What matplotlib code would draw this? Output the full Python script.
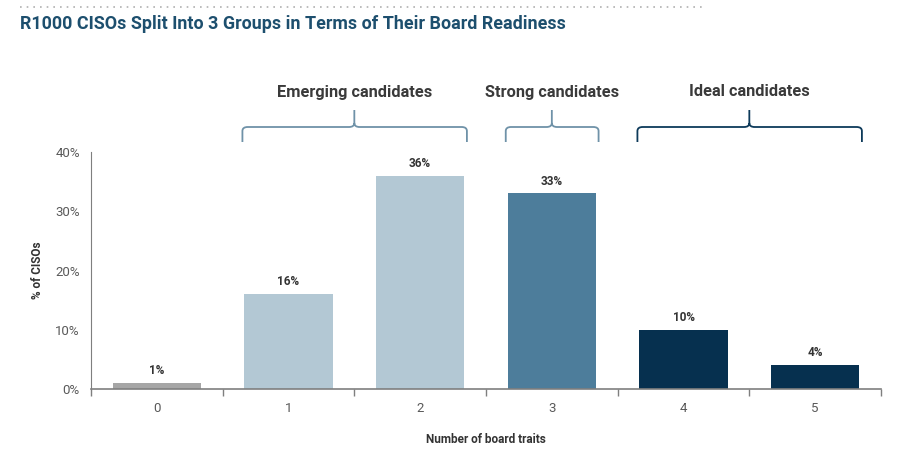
import matplotlib
matplotlib.use("Agg")
import matplotlib.pyplot as plt
from matplotlib.path import Path
from matplotlib.patches import PathPatch
from matplotlib.lines import Line2D
from matplotlib.transforms import blended_transform_factory
import numpy as np

plt.rcParams['font.family'] = ['Roboto', 'DejaVu Sans']

title = "R1000 CISOs Split Into 3 Groups in Terms of Their Board Readiness"
categories = ["0", "1", "2", "3", "4", "5"]
values = [1, 16, 36, 33, 10, 4]
bar_colors = ["#a6a6a6", "#b3c8d4", "#b3c8d4", "#4d7d9b", "#06304f", "#06304f"]
yticks = [0, 10, 20, 30, 40]
ytick_labels = ["0%", "10%", "20%", "30%", "40%"]
groups = ["Emerging candidates", "Strong candidates", "Ideal candidates"]
group_ranges = [(1, 2), (3, 3), (4, 5)]
group_colors = ["#6f92a8", "#6f92a8", "#0d3a5a"]
xlabel = "Number of board traits"
ylabel = "% of CISOs"

W, H = 917, 451
fig = plt.figure(figsize=(W / 100, H / 100), dpi=100)
ax = fig.add_axes([91 / W, 1 - 389 / H, (881 - 91) / W, (389 - 152) / H])

x = np.arange(len(categories))
ax.bar(x, values, width=0.67, color=bar_colors, zorder=2)
for xi, v in zip(x, values):
    ax.text(xi, v + 1.0, f"{v}%", ha="center", va="bottom", fontsize=8.5,
            fontweight="bold", color="#333333")

ax.set_xlim(-0.5, len(categories) - 0.5)
ax.set_ylim(0, 40)
ax.set_yticks(yticks)
ax.set_yticklabels(ytick_labels, fontsize=9.5, color="#595959")
ax.tick_params(axis="y", length=0, pad=8)
ax.set_xticks(x)
ax.set_xticklabels(categories, fontsize=9.5, color="#595959")
ax.set_xticks(np.arange(-0.5, len(categories)), minor=True)
ax.tick_params(axis="x", which="major", length=0, pad=9)
ax.tick_params(axis="x", which="minor", length=5, color="#7f7f7f", width=1)

for s in ["top", "right"]:
    ax.spines[s].set_visible(False)
ax.spines["left"].set_color("#7f7f7f")
ax.spines["bottom"].set_color("#7f7f7f")
ax.spines["bottom"].set_linewidth(1.2)

ax.set_xlabel(xlabel, fontsize=8.5, fontweight="bold", color="#333333", labelpad=13)
ax.set_ylabel(ylabel, fontsize=8.5, fontweight="bold", color="#333333", labelpad=8)

# brackets
tr = blended_transform_factory(ax.transData, fig.transFigure)
def fy(py):
    return 1 - py / H

for name, (a, b), col in zip(groups, group_ranges, group_colors):
    x0, x1 = a - 0.35, b + 0.355
    xc = (a + b) / 2
    rx = 0.04
    yb, yh, yt = fy(142), fy(127), fy(110)
    r = 4 / H
    verts = [
        (x0, yb), (x0, yh - r), (x0, yh), (x0 + rx, yh),
        (xc - rx, yh), (xc, yh), (xc, yh + r), (xc, yt),
        (xc, yh + r), (xc, yh), (xc + rx, yh),
        (x1 - rx, yh), (x1, yh), (x1, yh - r), (x1, yb),
    ]
    codes = [Path.MOVETO, Path.LINETO, Path.CURVE3, Path.CURVE3,
             Path.LINETO, Path.CURVE3, Path.CURVE3, Path.LINETO,
             Path.MOVETO, Path.CURVE3, Path.CURVE3,
             Path.LINETO, Path.CURVE3, Path.CURVE3, Path.LINETO]
    patch = PathPatch(Path(verts, codes), transform=tr, fill=False,
                      edgecolor=col, lw=1.3, clip_on=False)
    fig.add_artist(patch)
    t = fig.text(0, 0, name, transform=tr, fontsize=11.8, fontweight="bold",
                 color="#3a3a3a", ha="center", va="center")
    t.set_position((xc, fy(92)))

# title and dotted line
fig.text(20 / W, fy(24), title, fontsize=12.9, fontweight="bold", color="#1d4f6e",
         ha="left", va="center")
fig.add_artist(Line2D([20 / W, 705 / W], [fy(7), fy(7)], transform=fig.transFigure,
                      color="#b0b0b0", lw=1.2, linestyle=(0, (1, 3))))

fig.savefig("out.png", dpi=100)
